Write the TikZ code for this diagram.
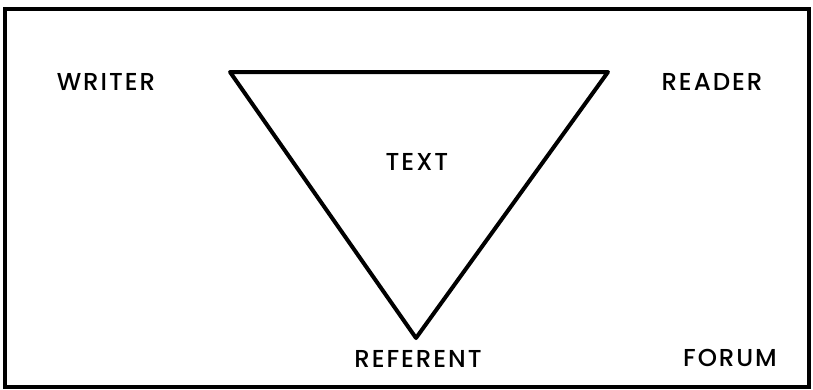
\documentclass[tikz,border=0pt]{standalone}
\usepackage{fontspec}
\setmainfont{Poppins}[UprightFont={* Medium}]
\begin{document}
\begin{tikzpicture}[x=1pt,y=-1pt,
  lbl/.style={font=\fontsize{24.5}{28}\selectfont\addfontfeatures{LetterSpace=8}, inner sep=0pt},
  frame/.style={line width=3.2pt},
  tri/.style={line width=4pt, line join=round}]
\useasboundingbox (0,0) rectangle (813,389);
\draw[frame] (5,9) rectangle (809,387);
\coordinate (tl) at (230,72);
\coordinate (tr) at (608,72);
\coordinate (bt) at (416,338);
\draw[tri] (tl) -- (tr) -- (bt) -- cycle;
\node[lbl] (writer) at (106,82) {WRITER};
\node[lbl] (reader) at (712,82) {READER};
\node[lbl] (text) at (417,162) {TEXT};
\node[lbl] (referent) at (418,359) {REFERENT};
\node[lbl] (forum) at (730,358) {FORUM};
\end{tikzpicture}
\end{document}
